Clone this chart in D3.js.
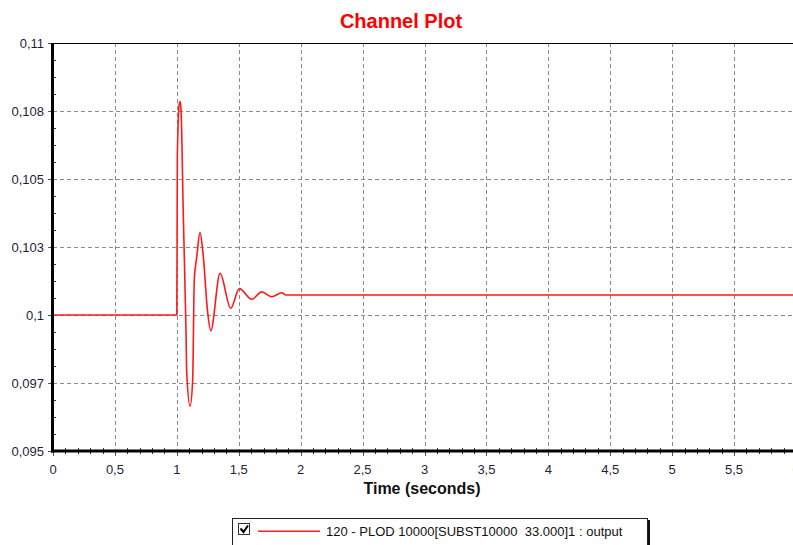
<!DOCTYPE html>
<html>
<head>
<meta charset="utf-8">
<script src="https://cdn.jsdelivr.net/npm/d3@7"></script>
<style>
  html, body { margin: 0; padding: 0; background: #fff; overflow: hidden; }
  svg { display: block; font-family: "Liberation Sans", Arial, sans-serif; }
</style>
</head>
<body>
<svg id="chart" width="793" height="545"></svg>
<script>
// ---- data ----
const timeS = [0, 1.0, 1.004, 1.020, 1.027, 1.034, 1.0525, 1.074, 1.080, 1.107, 1.128, 1.141, 1.161, 1.187, 1.214, 1.247, 1.274, 1.349, 1.435, 1.505, 1.605, 1.686, 1.767, 1.847, 1.88, 6.0];
const outputV = [0.1, 0.1, 0.1058, 0.10778, 0.10785, 0.10754, 0.10361, 0.09945, 0.09786, 0.09665, 0.09761, 0.10129, 0.10214, 0.10303, 0.10214, 0.10018, 0.09942, 0.10153, 0.10025, 0.10097, 0.10058, 0.10085, 0.10067, 0.10082, 0.100735, 0.100735];
const xTicks = [0, 0.5, 1, 1.5, 2, 2.5, 3, 3.5, 4, 4.5, 5, 5.5, 6];
const xTickLabels = ["0", "0,5", "1", "1,5", "2", "2,5", "3", "3,5", "4", "4,5", "5", "5,5", "6"];
const yTicks = [0.095, 0.0975, 0.1, 0.1025, 0.105, 0.1075, 0.11];
const yTickLabels = ["0,095", "0,097", "0,1", "0,103", "0,105", "0,108", "0,11"];
const titleText = "Channel Plot";
const xAxisTitle = "Time (seconds)";
const legendLabel = "120 - PLOD 10000[SUBST10000  33.000]1 : output";

// ---- layout ----
const svg = d3.select("#chart");
const pL = 53, pT = 43, pB = 451, pR = 796;

const x = d3.scaleLinear().domain([0, 6]).range([pL, pR]);
const y = d3.scaleLinear().domain([0.095, 0.11]).range([pB, pT]);

// title
svg.append("text")
  .attr("x", 401).attr("y", 28)
  .attr("text-anchor", "middle")
  .attr("font-size", 20).attr("font-weight", "bold")
  .attr("fill", "#ff0000")
  .text(titleText);

// grid
const grid = svg.append("g").attr("stroke", "#8a8a8a").attr("stroke-width", 1).attr("stroke-dasharray", "4,3");
grid.selectAll(".vg").data(xTicks.slice(1)).enter().append("line")
  .attr("x1", d => Math.round(x(d)) + 0.5).attr("x2", d => Math.round(x(d)) + 0.5)
  .attr("y1", pT).attr("y2", pB);
grid.selectAll(".hg").data(yTicks.slice(1, -1)).enter().append("line")
  .attr("x1", pL).attr("x2", pR)
  .attr("y1", d => Math.round(y(d)) + 0.5).attr("y2", d => Math.round(y(d)) + 0.5);

// minor ticks
const xMinor = d3.range(0, 61).map(i => i / 10).filter(v => Math.abs(v * 2 - Math.round(v * 2)) > 1e-6);
svg.append("g").selectAll("line").data(xMinor).enter().append("line")
  .attr("x1", d => Math.round(x(d)) + 0.5).attr("x2", d => Math.round(x(d)) + 0.5)
  .attr("y1", pB - 3).attr("y2", pB + 3)
  .attr("stroke", "#333").attr("stroke-width", 1);
const yMinor = d3.range(0, 25).map(i => 0.095 + i * 0.000625).filter((v, i) => i % 4 !== 0);
svg.append("g").selectAll("line").data(yMinor).enter().append("line")
  .attr("x1", pL - 2).attr("x2", pL + 3)
  .attr("y1", d => Math.round(y(d)) + 0.5).attr("y2", d => Math.round(y(d)) + 0.5)
  .attr("stroke", "#333").attr("stroke-width", 1);

// major tick marks outside
svg.append("g").selectAll("line").data(yTicks).enter().append("line")
  .attr("x1", pL - 5).attr("x2", pL)
  .attr("y1", d => Math.round(y(d)) + 0.5).attr("y2", d => Math.round(y(d)) + 0.5)
  .attr("stroke", "#555");
svg.append("g").selectAll("line").data(xTicks).enter().append("line")
  .attr("x1", d => Math.round(x(d)) + 0.5).attr("x2", d => Math.round(x(d)) + 0.5)
  .attr("y1", pB).attr("y2", pB + 5)
  .attr("stroke", "#555");

// data line
svg.append("clipPath").attr("id", "clip").append("rect")
  .attr("x", pL).attr("y", pT).attr("width", pR - pL).attr("height", pB - pT);
const pts = timeS.map((t, i) => [t, outputV[i]]);
svg.append("path")
  .datum(pts)
  .attr("clip-path", "url(#clip)")
  .attr("fill", "none")
  .attr("stroke", "#ff1a1a")
  .attr("stroke-width", 1.6)
  .attr("d", d3.line().x(d => x(d[0])).y(d => y(d[1])).curve(d3.curveMonotoneX));

// frame
svg.append("line").attr("x1", pL).attr("x2", pR).attr("y1", pT + 0.5).attr("y2", pT + 0.5)
  .attr("stroke", "#000").attr("stroke-width", 1);
svg.append("line").attr("x1", pL - 0.5).attr("x2", pL - 0.5).attr("y1", pT).attr("y2", pB + 1.5)
  .attr("stroke", "#000").attr("stroke-width", 3);
svg.append("line").attr("x1", pL - 2).attr("x2", pR).attr("y1", pB).attr("y2", pB)
  .attr("stroke", "#000").attr("stroke-width", 3);

// tick labels
svg.append("g").selectAll("text").data(yTicks).enter().append("text")
  .attr("x", 44).attr("y", d => y(d) + 4.5)
  .attr("text-anchor", "end").attr("font-size", 13).attr("fill", "#1e1e3c")
  .text((d, i) => yTickLabels[i]);
svg.append("g").selectAll("text").data(xTicks).enter().append("text")
  .attr("x", d => x(d)).attr("y", 474)
  .attr("text-anchor", "middle").attr("font-size", 13).attr("fill", "#1e1e3c")
  .text((d, i) => xTickLabels[i]);

// x axis title
svg.append("text")
  .attr("x", 422).attr("y", 494)
  .attr("text-anchor", "middle")
  .attr("font-size", 16).attr("font-weight", "bold").attr("fill", "#111")
  .text(xAxisTitle);

// legend
const lg = svg.append("g");
lg.append("rect").attr("x", 647).attr("y", 520).attr("width", 3).attr("height", 40).attr("fill", "#111");
lg.append("rect").attr("x", 232.5).attr("y", 518.5).attr("width", 415).attr("height", 40)
  .attr("fill", "#fff").attr("stroke", "#222").attr("stroke-width", 1);
lg.append("rect").attr("x", 238.5).attr("y", 523.5).attr("width", 11).attr("height", 11)
  .attr("fill", "#fff").attr("stroke", "#333");
lg.append("path").attr("d", "M240.5,528.5 L243.5,532 L248,525.5")
  .attr("fill", "none").attr("stroke", "#000").attr("stroke-width", 2);
lg.append("rect").attr("x", 258).attr("y", 530.5).attr("width", 62).attr("height", 1.5)
  .attr("fill", "#ff2020");
lg.append("text").attr("x", 326).attr("y", 536)
  .attr("font-size", 13).attr("fill", "#111")
  .style("white-space", "pre")
  .text(legendLabel);
</script>
</body>
</html>
